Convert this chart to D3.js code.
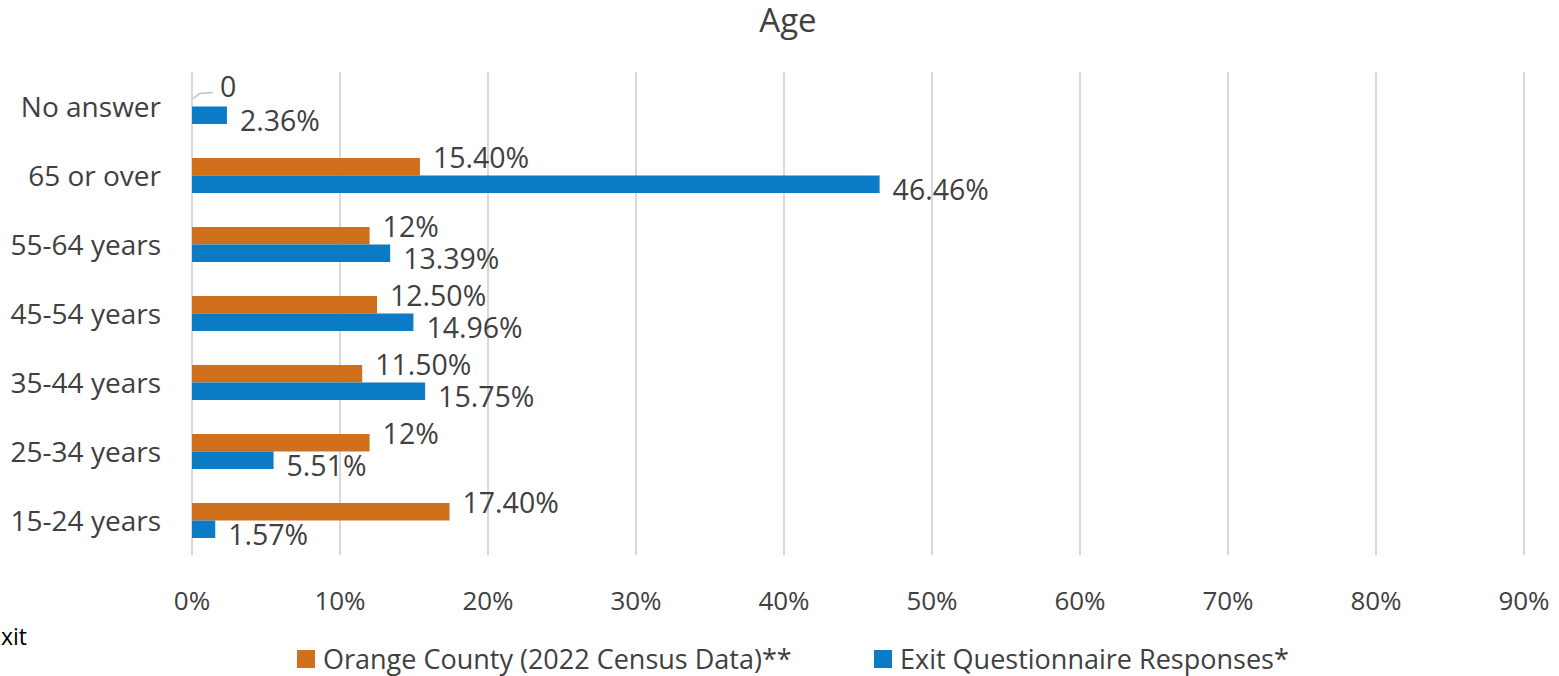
<!DOCTYPE html>
<html>
<head>
<meta charset="utf-8">
<script src="https://cdn.jsdelivr.net/npm/d3@7"></script>
<style>
  body { margin: 0; background: #fff; }
  svg text { font-family: "Open Sans", "Noto Sans", sans-serif; fill: #404040; }
</style>
</head>
<body>
<svg id="chart" width="1559" height="676"></svg>
<script>
const categories = ["No answer", "65 or over", "55-64 years", "45-54 years", "35-44 years", "25-34 years", "15-24 years"];
const census = [0, 15.4, 12, 12.5, 11.5, 12, 17.4];
const census_labels = ["0", "15.40%", "12%", "12.50%", "11.50%", "12%", "17.40%"];
const exit = [2.36, 46.46, 13.39, 14.96, 15.75, 5.51, 1.57];
const exit_labels = ["2.36%", "46.46%", "13.39%", "14.96%", "15.75%", "5.51%", "1.57%"];
const ticks = [0, 10, 20, 30, 40, 50, 60, 70, 80, 90];
const series_names = ["Orange County (2022 Census Data)**", "Exit Questionnaire Responses*"];

const orange = "#D0701D";
const blue = "#0A7BC4";

const svg = d3.select("#chart");
const margin = { top: 72, left: 192, right: 35, bottom: 121 };
const width = 1559, height = 676;

const x = d3.scaleLinear().domain([0, 90]).range([margin.left, margin.left + 1332]);
const y = d3.scaleBand().domain(categories).range([margin.top, height - margin.bottom]);
const bar_h = 17.5;
const mid = (d) => y(d) + y.bandwidth() / 2;

// title
svg.append("text")
  .attr("x", 788).attr("y", 32)
  .attr("text-anchor", "middle")
  .style("font-size", "33px")
  .text("Age");

// gridlines
svg.append("g")
  .selectAll("line")
  .data(ticks)
  .join("line")
  .attr("x1", (d) => x(d)).attr("x2", (d) => x(d))
  .attr("y1", y.range()[0]).attr("y2", y.range()[1])
  .attr("stroke", "#d9d9d9")
  .attr("stroke-width", 2);

// x tick labels
svg.append("g")
  .selectAll("text")
  .data(ticks)
  .join("text")
  .attr("x", (d) => x(d))
  .attr("y", 610)
  .attr("text-anchor", "middle")
  .style("font-size", "26px")
  .text((d) => d + "%");

// category labels
svg.append("g")
  .selectAll("text")
  .data(categories)
  .join("text")
  .attr("x", 161)
  .attr("y", (d) => mid(d) + 10)
  .attr("text-anchor", "end")
  .style("font-size", "28px")
  .text((d) => d);

// census bars
svg.append("g")
  .selectAll("rect")
  .data(categories)
  .join("rect")
  .attr("x", x(0))
  .attr("y", (d) => mid(d) - bar_h)
  .attr("width", (d, i) => x(census[i]) - x(0))
  .attr("height", bar_h)
  .attr("fill", orange);

// exit bars
svg.append("g")
  .selectAll("rect")
  .data(categories)
  .join("rect")
  .attr("x", x(0))
  .attr("y", (d) => mid(d))
  .attr("width", (d, i) => x(exit[i]) - x(0))
  .attr("height", bar_h)
  .attr("fill", blue);

// census labels
svg.append("g")
  .selectAll("text")
  .data(categories)
  .join("text")
  .attr("x", (d, i) => x(census[i]) + (census[i] === 0 ? 28 : 13))
  .attr("y", (d, i) => mid(d) - bar_h / 2 - 9 + 10 - (census[i] === 0 ? 2 : 0))
  .style("font-size", "28.5px")
  .text((d, i) => census_labels[i]);

// leader line for the zero label
const y0 = mid(categories[0]);
svg.append("path")
  .attr("d", `M${x(0) + 1},${y0 - 8} L${x(0) + 8},${y0 - 13} L${x(0) + 21},${y0 - 14}`)
  .attr("fill", "none")
  .attr("stroke", "#bfbfbf")
  .attr("stroke-width", 1.5);

// exit labels
svg.append("g")
  .selectAll("text")
  .data(categories)
  .join("text")
  .attr("x", (d, i) => x(exit[i]) + 13)
  .attr("y", (d) => mid(d) + bar_h / 2 + 6 + 10)
  .style("font-size", "28.5px")
  .text((d, i) => exit_labels[i]);

// stray clipped text at left
svg.append("text")
  .attr("x", 27).attr("y", 645)
  .attr("text-anchor", "end")
  .style("font-size", "23px")
  .style("fill", "#000")
  .text("Exit");

// legend
const legend_x = [297, 874];
const legend = svg.append("g")
  .selectAll("g")
  .data(series_names)
  .join("g")
  .attr("transform", (d, i) => `translate(${legend_x[i]},650)`);
legend.append("rect")
  .attr("width", 18).attr("height", 18)
  .attr("fill", (d, i) => [orange, blue][i]);
legend.append("text")
  .attr("x", 26).attr("y", 19)
  .style("font-size", "27px")
  .text((d) => d);
</script>
</body>
</html>
